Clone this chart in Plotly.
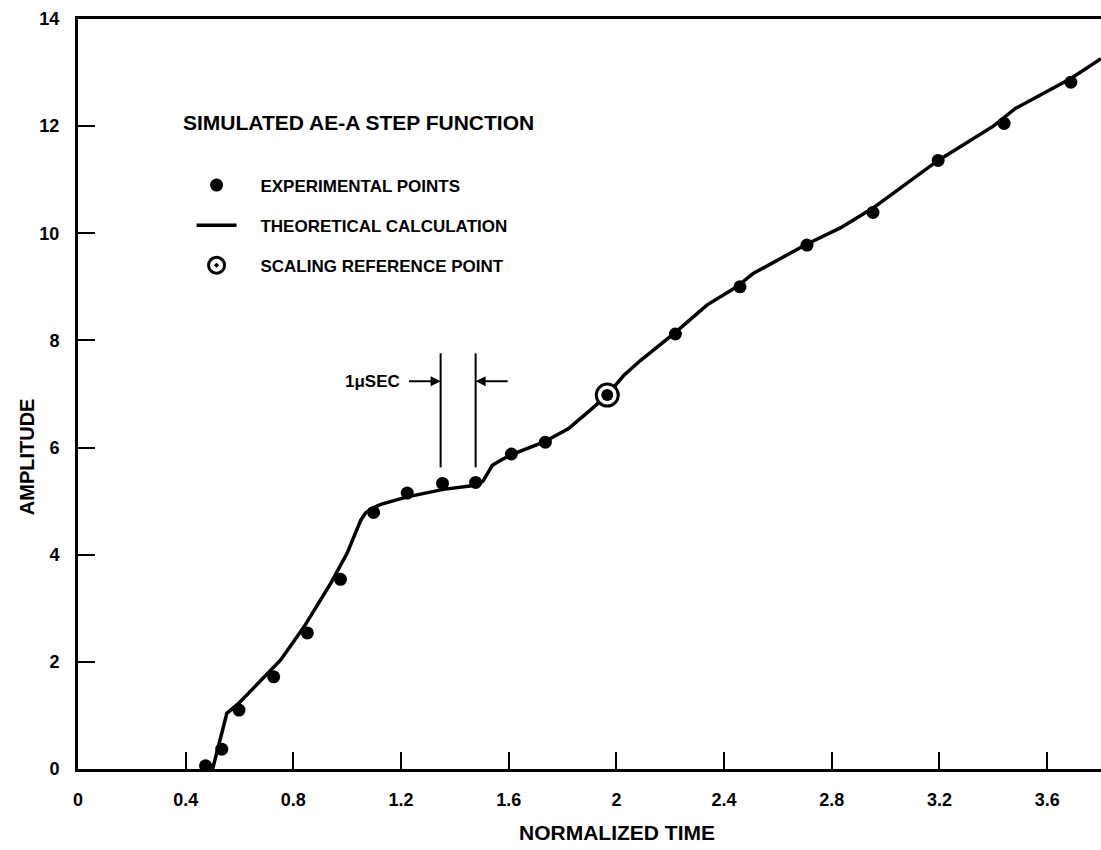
import plotly.graph_objects as go

# ---- data ----
exp_x = [0.474, 0.534, 0.598, 0.727, 0.852, 0.975, 1.098, 1.223, 1.354, 1.477,
         1.610, 1.736, 2.219, 2.459, 2.708, 2.953, 3.195, 3.440, 3.688]
exp_y = [0.06, 0.37, 1.10, 1.72, 2.54, 3.54, 4.79, 5.15, 5.33, 5.35,
         5.88, 6.10, 8.12, 9.00, 9.78, 10.39, 11.36, 12.05, 12.82]

theo_x = [0.50, 0.553, 0.60, 0.70, 0.752, 0.839, 0.939, 1.00, 1.030, 1.050, 1.068,
          1.09, 1.125, 1.223, 1.357, 1.484, 1.505, 1.539, 1.569, 1.606, 1.729, 1.821,
          1.903, 1.966, 2.026, 2.088, 2.219, 2.336, 2.447, 2.508, 2.708, 2.832,
          2.953, 3.195, 3.400, 3.482, 3.688, 3.80]
theo_y = [0.00, 1.04, 1.24, 1.75, 2.03, 2.65, 3.47, 4.03, 4.40, 4.64, 4.78,
          4.86, 4.94, 5.08, 5.22, 5.30, 5.38, 5.67, 5.76, 5.86, 6.10, 6.35,
          6.70, 6.98, 7.34, 7.62, 8.15, 8.66, 9.00, 9.25, 9.80, 10.10,
          10.47, 11.36, 12.00, 12.33, 12.89, 13.26]

ref_x = [1.966]
ref_y = [6.98]

x_ticks = [0, 0.4, 0.8, 1.2, 1.6, 2.0, 2.4, 2.8, 3.2, 3.6]
x_ticktext = ["0", "0.4", "0.8", "1.2", "1.6", "2", "2.4", "2.8", "3.2", "3.6"]
y_ticks = [0, 2, 4, 6, 8, 10, 12, 14]
y_ticktext = ["0", "2", "4", "6", "8", "10", "12", "14"]

# 1 microsecond marker
usec_lines_x = [1.347, 1.477]
usec_line_y = [5.63, 7.76]
usec_arrow_y = 7.24
usec_arrow_tails = [1.224, 1.602]

FONT = "Liberation Sans, Arial, sans-serif"
W = 700
INK = "black"
PAD = "\u00a0" * 4

fig = go.Figure()

fig.add_trace(go.Scatter(
    x=theo_x, y=theo_y, mode="lines", name=PAD + "THEORETICAL CALCULATION",
    line=dict(color=INK, width=3.5), legendgroup="b", legendrank=2))

fig.add_trace(go.Scatter(
    x=exp_x, y=exp_y, mode="markers", name=PAD + "EXPERIMENTAL POINTS",
    marker=dict(color=INK, size=13, symbol="circle"), legendgroup="a", legendrank=1))

# scaling reference point: outer ring + white gap + inner dot
fig.add_trace(go.Scatter(
    x=ref_x, y=ref_y, mode="markers", name=PAD + "SCALING REFERENCE POINT",
    marker=dict(color="white", size=22, symbol="circle-dot",
                line=dict(color=INK, width=3)),
    legendgroup="c", legendrank=3))
fig.add_trace(go.Scatter(
    x=ref_x, y=ref_y, mode="markers", showlegend=False,
    marker=dict(color=INK, size=12, symbol="circle")))

# 1 usec bracket
for xv in usec_lines_x:
    fig.add_shape(type="line", x0=xv, x1=xv, y0=usec_line_y[0], y1=usec_line_y[1],
                  xref="x", yref="y", line=dict(color=INK, width=2))
for head, tail in zip(usec_lines_x, usec_arrow_tails):
    fig.add_annotation(x=head, y=usec_arrow_y, ax=tail, ay=usec_arrow_y,
                       xref="x", yref="y", axref="x", ayref="y", text="",
                       showarrow=True, arrowhead=2, arrowsize=1, arrowwidth=2,
                       arrowcolor=INK)
fig.add_annotation(x=usec_arrow_tails[0] - 0.02, y=usec_arrow_y, xref="x", yref="y",
                   text="1\u03bcSEC", showarrow=False, xanchor="right",
                   font=dict(family=FONT, size=17, color=INK, weight=W))

# legend title
fig.add_annotation(x=0.101, y=0.862, xref="paper", yref="paper",
                   text="SIMULATED AE-A STEP FUNCTION", showarrow=False,
                   xanchor="left", yanchor="middle",
                   font=dict(family=FONT, size=21, color=INK, weight=W))

# axis titles (placed off-centre as in the original)
fig.add_annotation(x=0.527, y=-0.084, xref="paper", yref="paper",
                   text="NORMALIZED TIME", showarrow=False,
                   xanchor="center", yanchor="middle",
                   font=dict(family=FONT, size=21, color=INK, weight=W))
fig.add_annotation(x=-0.0499, y=0.417, xref="paper", yref="paper",
                   text="AMPLITUDE", showarrow=False, textangle=-90,
                   xanchor="center", yanchor="middle",
                   font=dict(family=FONT, size=20, color=INK, weight=W))

fig.update_layout(
    width=1101, height=850,
    margin=dict(l=78, r=0, t=19, b=81),
    paper_bgcolor="white", plot_bgcolor="white",
    font=dict(family=FONT, size=17, color=INK, weight=W),
    showlegend=True,
    legend=dict(x=0.111, y=0.802, xanchor="left", yanchor="top",
                bgcolor="rgba(0,0,0,0)", tracegroupgap=15, itemwidth=40,
                font=dict(family=FONT, size=17, color=INK, weight=W),
                traceorder="grouped"),
)

fig.update_xaxes(
    range=[0, 3.80], showgrid=False, zeroline=False,
    showline=True, linecolor=INK, linewidth=3, mirror=True,
    ticks="inside", ticklen=17, tickwidth=2, tickcolor=INK,
    tickvals=x_ticks, ticktext=x_ticktext, ticklabelstandoff=12,
    tickfont=dict(family=FONT, size=18, color=INK, weight=W),
)
fig.update_yaxes(
    range=[0, 14], showgrid=False, zeroline=False,
    showline=True, linecolor=INK, linewidth=3,
    ticks="inside", ticklen=17, tickwidth=2, tickcolor=INK,
    tickvals=y_ticks, ticktext=y_ticktext, ticklabelstandoff=12,
    tickfont=dict(family=FONT, size=18, color=INK, weight=W),
)

fig.write_html("out.html", config={"displayModeBar": False},
               post_script="document.body.style.margin='0';")
